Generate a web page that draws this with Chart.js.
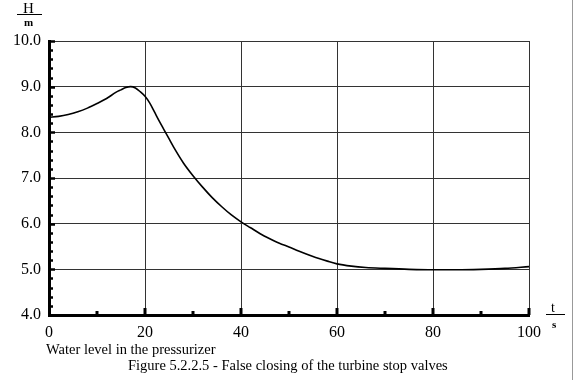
<!DOCTYPE html>
<html>
<head>
<meta charset="utf-8">
<script src="https://cdn.jsdelivr.net/npm/chart.js@4.4.1/dist/chart.umd.min.js"></script>
<style>
  body { margin: 0; background: #fff; }
  .wrap { position: relative; width: 574px; height: 380px; font-family: "Liberation Serif", "Times New Roman", serif; color: #000; }
  .lbl { position: absolute; white-space: nowrap; line-height: 1; }
  .bar { position: absolute; border-top: 1.5px solid #000; height: 0; }
  .edge { position: absolute; left: 572px; top: 0; width: 0; height: 380px; border-left: 1px solid #999; }
</style>
</head>
<body>
<div class="wrap">
  <canvas id="level-chart" width="574" height="380"></canvas>
  <div class="lbl" style="left:23px; top:1px; font-size:15px;">H</div>
  <div class="bar" style="left:17px; top:14px; width:25px;"></div>
  <div class="lbl" style="left:24px; top:17px; font-size:11px; font-weight:bold;">m</div>
  <div class="lbl" style="left:551px; top:301px; font-size:14px;">t</div>
  <div class="bar" style="left:546px; top:314px; width:19px;"></div>
  <div class="lbl" style="left:552px; top:319px; font-size:11px; font-weight:bold;">s</div>
  <div class="lbl" style="left:46px; top:342px; font-size:14.5px;">Water level in the pressurizer</div>
  <div class="lbl" style="left:128px; top:358px; font-size:14.5px;">Figure 5.2.2.5 - False closing of the turbine stop valves</div>
  <div class="edge"></div>
</div>
<script>
  // time, s
  const timeS = [0, 2, 4, 6, 8, 10, 12, 14, 15, 16, 17, 18, 19, 20, 21, 22, 23, 24, 25, 26, 28, 30, 32, 34, 36, 38,
                 40, 42, 44, 46, 48, 50, 52, 55, 58, 60, 63, 66, 70, 75, 80, 85, 90, 95, 100]
  // water level H, m
  const levelM = [8.33, 8.35, 8.39, 8.45, 8.53, 8.63, 8.74, 8.88, 8.93, 8.98, 9.00, 8.97, 8.89, 8.79, 8.64, 8.44,
                  8.24, 8.05, 7.86, 7.67, 7.33, 7.05, 6.80, 6.57, 6.37, 6.19, 6.04, 5.91, 5.78, 5.67, 5.57, 5.49,
                  5.40, 5.28, 5.18, 5.12, 5.07, 5.04, 5.02, 5.00, 4.99, 4.99, 5.00, 5.02, 5.06]
  const xMin = 0, xMax = 100, xStep = 10
  const yMin = 4, yMax = 10, yStep = 0.2

  Chart.defaults.font.family = '"Liberation Serif", "Times New Roman", serif'
  Chart.defaults.color = '#000'

  function isWhole(v) {
    return Math.abs(v - Math.round(v)) < 1e-6
  }

  // small inward ticks on the left and bottom axes
  const innerTicks = {
    id: 'innerTicks',
    afterDraw(chart) {
      const ctx = chart.ctx
      const area = chart.chartArea
      const x = chart.scales.x
      const y = chart.scales.y
      ctx.save()
      ctx.strokeStyle = '#000'
      ctx.lineWidth = 2.5
      y.ticks.forEach(function (t) {
        const py = Math.round(y.getPixelForValue(t.value)) + 0.5
        const len = isWhole(t.value) ? 6 : 4
        ctx.beginPath()
        ctx.moveTo(area.left, py)
        ctx.lineTo(area.left + len, py)
        ctx.stroke()
      })
      ctx.lineWidth = 3
      x.ticks.forEach(function (t) {
        if (t.value === xMin) return
        const px = Math.round(x.getPixelForValue(t.value))
        const len = t.value % 20 === 0 ? 7 : 4
        ctx.beginPath()
        ctx.moveTo(px, area.bottom)
        ctx.lineTo(px, area.bottom - len)
        ctx.stroke()
      })
      ctx.restore()
    }
  }

  new Chart(document.getElementById('level-chart'), {
    type: 'line',
    data: {
      datasets: [
        {
          label: 'H',
          data: timeS.map(function (t, i) { return { x: t, y: levelM[i] } }),
          borderColor: '#000',
          borderWidth: 1.6,
          pointRadius: 0,
          fill: false,
          cubicInterpolationMode: 'monotone'
        }
      ]
    },
    options: {
      responsive: false,
      animation: false,
      devicePixelRatio: 1,
      layout: { padding: { left: 0, right: 45, top: 41, bottom: 0 } },
      plugins: { legend: { display: false }, tooltip: { enabled: false } },
      scales: {
        x: {
          type: 'linear',
          min: xMin,
          max: xMax,
          afterFit: function (scale) { scale.height = 65 },
          border: { color: '#000', width: 3 },
          grid: {
            drawTicks: false,
            lineWidth: 1,
            color: function (c) {
              return c.tick && c.tick.value % 20 === 0 && c.tick.value > 0 ? '#333' : 'rgba(0,0,0,0)'
            }
          },
          ticks: {
            stepSize: xStep,
            padding: 8,
            maxRotation: 0,
            autoSkip: false,
            font: { size: 16 },
            callback: function (v) { return v % 20 === 0 ? String(v) : '' }
          }
        },
        y: {
          min: yMin,
          max: yMax,
          afterFit: function (scale) { scale.width = 49 },
          border: { color: '#000', width: 3 },
          grid: {
            drawTicks: false,
            lineWidth: 1,
            color: function (c) {
              return c.tick && isWhole(c.tick.value) && c.tick.value > yMin ? '#333' : 'rgba(0,0,0,0)'
            }
          },
          ticks: {
            stepSize: yStep,
            padding: 8,
            autoSkip: false,
            font: { size: 16 },
            callback: function (v) { return isWhole(v) ? Math.round(v).toFixed(1) : '' }
          }
        }
      }
    },
    plugins: [innerTicks]
  })
</script>
</body>
</html>
